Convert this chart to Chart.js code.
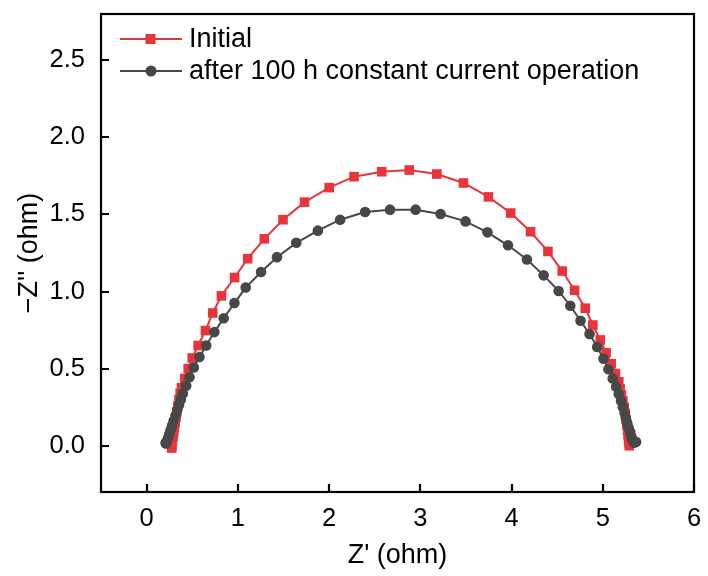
<!DOCTYPE html>
<html>
<head>
<meta charset="utf-8">
<script src="https://cdn.jsdelivr.net/npm/chart.js@4.4.0/dist/chart.umd.min.js"></script>
<style>
  html, body { margin: 0; padding: 0; background: #fff; }
  #wrap { width: 708px; height: 576px; position: relative; }
</style>
</head>
<body>
<div id="wrap"><canvas id="c" width="708" height="576"></canvas></div>
<script>
// ---- Data ----
const seriesNames = ["Initial", "after 100 h constant current operation"];

const initialX = [0.275, 0.278, 0.283, 0.290, 0.297, 0.305, 0.313, 0.322, 0.332, 0.343, 0.355, 0.368,
  0.383, 0.419, 0.456, 0.500, 0.565, 0.645, 0.725, 0.820, 0.965, 1.108, 1.290, 1.495, 1.731, 2.001,
  2.274, 2.577, 2.879, 3.181, 3.473, 3.747, 3.991, 4.209, 4.399, 4.556, 4.691, 4.808, 4.891, 4.972,
  5.037, 5.092, 5.139, 5.175, 5.190, 5.205, 5.220, 5.235, 5.245, 5.255, 5.265, 5.272, 5.278, 5.283,
  5.288, 5.290];
const initialY = [-0.015, 0.000, 0.030, 0.060, 0.090, 0.120, 0.150, 0.185, 0.220, 0.260, 0.300, 0.340,
  0.376, 0.436, 0.500, 0.569, 0.650, 0.747, 0.861, 0.972, 1.091, 1.213, 1.342, 1.466, 1.580, 1.674,
  1.745, 1.777, 1.788, 1.762, 1.704, 1.614, 1.509, 1.388, 1.260, 1.133, 1.008, 0.892, 0.783, 0.686,
  0.603, 0.532, 0.468, 0.415, 0.370, 0.330, 0.290, 0.250, 0.210, 0.170, 0.135, 0.100, 0.070, 0.045,
  0.020, 0.000];

const afterX = [0.208, 0.212, 0.222, 0.235, 0.248, 0.262, 0.278, 0.295, 0.315, 0.335, 0.355, 0.375,
  0.397, 0.434, 0.470, 0.517, 0.579, 0.653, 0.743, 0.845, 0.962, 1.086, 1.254, 1.429, 1.640, 1.877,
  2.121, 2.395, 2.668, 2.949, 3.222, 3.496, 3.736, 3.961, 4.169, 4.352, 4.516, 4.644, 4.756, 4.855,
  4.939, 5.008, 5.062, 5.109, 5.147, 5.175, 5.200, 5.220, 5.240, 5.255, 5.270, 5.285, 5.300, 5.310,
  5.320, 5.330, 5.340, 5.355, 5.365];
const afterY = [0.017, 0.015, 0.030, 0.050, 0.075, 0.100, 0.130, 0.160, 0.195, 0.230, 0.265, 0.300,
  0.339, 0.389, 0.444, 0.507, 0.576, 0.650, 0.737, 0.827, 0.925, 1.026, 1.127, 1.223, 1.316, 1.395,
  1.466, 1.516, 1.531, 1.531, 1.503, 1.455, 1.384, 1.300, 1.208, 1.105, 1.004, 0.908, 0.811, 0.725,
  0.640, 0.564, 0.496, 0.436, 0.382, 0.335, 0.290, 0.250, 0.210, 0.175, 0.145, 0.115, 0.090, 0.065,
  0.045, 0.030, 0.020, 0.025, 0.025];

const xTicks = [0, 1, 2, 3, 4, 5, 6];
const yTicks = [0.0, 0.5, 1.0, 1.5, 2.0, 2.5];
const xTitle = "Z' (ohm)";
const yTitle = "\u2212Z'' (ohm)";

// ---- Build ----
const RED = "#e8353b";
const GREY = "#474747";
const FONT = "'Liberation Sans', Arial, sans-serif";
const TICK_SIZE = 25.5;
const TITLE_SIZE = 27;
const LEGEND_SIZE = 27;

function pts(xs, ys) { return xs.map((x, i) => ({ x: x, y: ys[i] })); }

const framePlugin = {
  id: 'frame',
  afterDatasetsDraw(chart) {
    const { ctx, chartArea: a, scales } = chart;
    ctx.save();
    ctx.strokeStyle = '#000';
    ctx.lineWidth = 2.2;
    ctx.strokeRect(a.left, a.top, a.right - a.left, a.bottom - a.top);
    ctx.beginPath();
    xTicks.forEach(v => {
      const px = Math.round(scales.x.getPixelForValue(v));
      ctx.moveTo(px, a.bottom);
      ctx.lineTo(px, a.bottom - 8);
    });
    yTicks.forEach(v => {
      const py = Math.round(scales.y.getPixelForValue(v));
      ctx.moveTo(a.left, py);
      ctx.lineTo(a.left + 8, py);
    });
    ctx.stroke();

    // legend
    const rows = [
      { name: seriesNames[0], color: RED, style: 'rect', y: 39 },
      { name: seriesNames[1], color: GREY, style: 'circle', y: 71 }
    ];
    rows.forEach(r => {
      ctx.strokeStyle = r.color;
      ctx.lineWidth = 2;
      ctx.beginPath();
      ctx.moveTo(120, r.y);
      ctx.lineTo(182, r.y);
      ctx.stroke();
      ctx.fillStyle = r.color;
      ctx.beginPath();
      if (r.style === 'rect') ctx.rect(145.5, r.y - 5, 10, 10);
      else ctx.arc(151, r.y, 5.5, 0, Math.PI * 2);
      ctx.fill();
      ctx.fillStyle = '#000';
      ctx.font = LEGEND_SIZE + 'px ' + FONT;
      ctx.textBaseline = 'middle';
      ctx.textAlign = 'left';
      ctx.fillText(r.name, 189, r.y + 1);
    });
    ctx.restore();
  }
};

new Chart(document.getElementById('c'), {
  type: 'scatter',
  data: {
    datasets: [
      {
        label: seriesNames[0],
        data: pts(initialX, initialY),
        showLine: true,
        borderColor: RED,
        backgroundColor: RED,
        borderWidth: 2,
        pointStyle: 'rect',
        pointRadius: 6.8,
        pointBorderWidth: 0,
        order: 1
      },
      {
        label: seriesNames[1],
        data: pts(afterX, afterY),
        showLine: true,
        borderColor: GREY,
        backgroundColor: GREY,
        borderWidth: 2,
        pointStyle: 'circle',
        pointRadius: 5.3,
        pointBorderWidth: 0,
        order: 0
      }
    ]
  },
  options: {
    responsive: false,
    animation: false,
    devicePixelRatio: 1,
    layout: { padding: { top: 14, right: 14, left: 0, bottom: 0 } },
    plugins: { legend: { display: false }, tooltip: { enabled: false } },
    scales: {
      x: {
        type: 'linear',
        min: -0.5, max: 6,
        afterBuildTicks(s) { s.ticks = xTicks.map(v => ({ value: v })); },
        afterFit(s) { s.height = 84; s.paddingLeft = 0; s.paddingRight = 0; },
        grid: { display: false, drawTicks: false },
        border: { display: false },
        ticks: { color: '#000', font: { family: FONT, size: TICK_SIZE }, padding: 12,
          callback: v => String(v) },
        title: { display: true, text: xTitle, color: '#000', font: { family: FONT, size: TITLE_SIZE }, padding: { top: 0, bottom: 4 } }
      },
      y: {
        type: 'linear',
        min: -0.3, max: 2.8,
        afterBuildTicks(s) { s.ticks = yTicks.map(v => ({ value: v })); },
        afterFit(s) { s.width = 101; s.paddingTop = 0; s.paddingBottom = 0; },
        grid: { display: false, drawTicks: false },
        border: { display: false },
        ticks: { color: '#000', font: { family: FONT, size: TICK_SIZE }, padding: 16,
          callback: v => Number(v).toFixed(1) },
        title: { display: true, text: yTitle, color: '#000', font: { family: FONT, size: TITLE_SIZE }, padding: { top: 13, bottom: 0 } }
      }
    }
  },
  plugins: [framePlugin]
});
</script>
</body>
</html>
